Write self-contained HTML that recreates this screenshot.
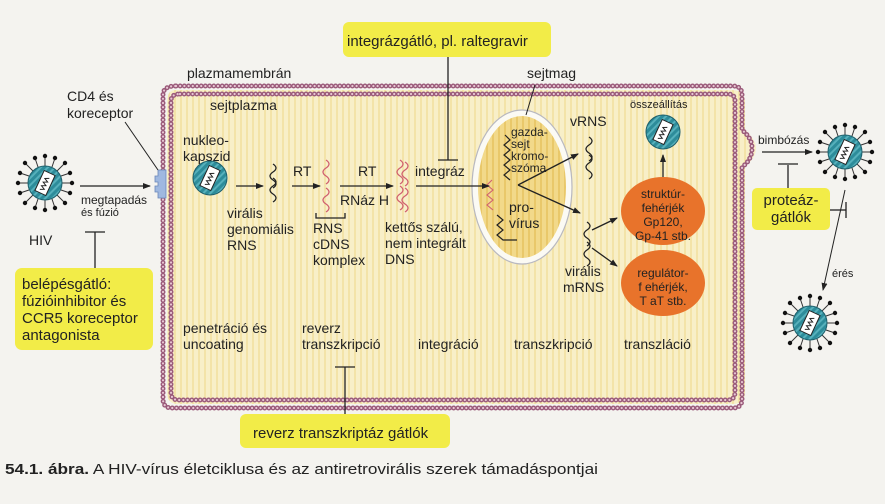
<!DOCTYPE html>
<html><head><meta charset="utf-8"><style>
html,body{margin:0;padding:0;background:#f4f3ef;}
svg{display:block;}
text{font-family:"Liberation Sans",sans-serif;fill:#222;}
</style></head><body>
<svg width="885" height="504" viewBox="0 0 885 504" xmlns="http://www.w3.org/2000/svg">
<defs>
<marker id="ar" markerWidth="8" markerHeight="8" refX="7" refY="4" orient="auto" markerUnits="userSpaceOnUse"><path d="M0,1 L8,4 L0,7 Z" fill="#222"/></marker>
<pattern id="str" width="6" height="10" patternUnits="userSpaceOnUse"><rect width="6" height="10" fill="#f8efc8"/><rect width="2" height="10" fill="#f3e3a8"/></pattern>
<pattern id="nstr" width="6" height="10" patternUnits="userSpaceOnUse"><rect width="6" height="10" fill="#f2d98a"/><rect width="2" height="10" fill="#e9c86a"/></pattern>
<pattern id="vstr" width="5" height="5" patternUnits="userSpaceOnUse" patternTransform="rotate(45)"><rect width="5" height="5" fill="#2d8c9a"/><rect width="2" height="5" fill="#56b0bb"/></pattern>
<g id="core"><circle r="17" fill="url(#vstr)" stroke="#1d5e6a" stroke-width="1"/><g transform="rotate(-65)"><rect x="-11" y="-6" width="22" height="12" fill="#fff" stroke="#222" stroke-width="1"/><path d="M-8,-2 l2,4 l2,-4 l2,4 l2,-4 l2,4 l2,-4 l2,4" fill="none" stroke="#222" stroke-width="1"/></g></g>
<g id="vir"><g stroke="#333" stroke-width="1">
<line x1="0" y1="-17" x2="0" y2="-27"/><line x1="0" y1="17" x2="0" y2="27"/><line x1="-17" y1="0" x2="-27" y2="0"/><line x1="17" y1="0" x2="27" y2="0"/>
<line x1="12" y1="12" x2="20" y2="20"/><line x1="-12" y1="12" x2="-20" y2="20"/><line x1="12" y1="-12" x2="20" y2="-20"/><line x1="-12" y1="-12" x2="-20" y2="-20"/>
<line x1="7" y1="-16" x2="10" y2="-25"/><line x1="-7" y1="16" x2="-10" y2="25"/><line x1="16" y1="7" x2="25" y2="10"/><line x1="-16" y1="-7" x2="-25" y2="-10"/>
<line x1="-7" y1="-16" x2="-10" y2="-25"/><line x1="7" y1="16" x2="10" y2="25"/><line x1="16" y1="-7" x2="25" y2="-10"/><line x1="-16" y1="7" x2="-25" y2="10"/></g>
<g fill="#111"><circle cx="0" cy="-27" r="2.2"/><circle cx="0" cy="27" r="2.2"/><circle cx="-27" cy="0" r="2.2"/><circle cx="27" cy="0" r="2.2"/><circle cx="20" cy="20" r="2.2"/><circle cx="-20" cy="20" r="2.2"/><circle cx="20" cy="-20" r="2.2"/><circle cx="-20" cy="-20" r="2.2"/><circle cx="10" cy="-25" r="2.2"/><circle cx="-10" cy="25" r="2.2"/><circle cx="25" cy="10" r="2.2"/><circle cx="-25" cy="-10" r="2.2"/><circle cx="-10" cy="-25" r="2.2"/><circle cx="10" cy="25" r="2.2"/><circle cx="25" cy="-10" r="2.2"/><circle cx="-25" cy="10" r="2.2"/></g>
<use href="#core"/></g>
<path id="sq" d="M0,0 q6,4 0,8 q-6,4 0,8 q6,4 0,8" fill="none" stroke-width="1.3"/>
</defs>

<!-- cell -->
<path d="M175,90 H732 Q745,90 745,103 V130 Q756,140 756,148 Q756,158 745,166 V392 Q745,404 732,404 H178 Q167,404 167,392 V103 Q167,90 175,90 Z" fill="url(#str)"/>
<g fill="none">
<path id="outer" d="M176,86 H733 Q742,86 742,95 V130 Q752,138 752,148 Q752,160 742,167 V399 Q742,408 733,408 H172 Q163,408 163,399 V95 Q163,86 176,86 Z"/>
<path id="inner" d="M180,94 H728 Q735,94 735,101 V392 Q735,400 728,400 H178 Q171,400 171,392 V101 Q171,94 180,94 Z"/>
</g>
<g fill="none" stroke-linecap="round">
<use href="#outer" stroke="#9a5a7a" stroke-width="5" stroke-dasharray="0 4.2"/>
<use href="#inner" stroke="#9a5a7a" stroke-width="5" stroke-dasharray="0 4.2"/>
<use href="#outer" stroke="#e8c8d4" stroke-width="2.2" stroke-dasharray="0 4.2"/>
<use href="#inner" stroke="#e8c8d4" stroke-width="2.2" stroke-dasharray="0 4.2"/>
</g>
<!-- receptor -->
<path d="M158,170 h8 v28 h-8 v-6 h-3 v-6 h3 v-4 h-3 v-6 h3 z" fill="#9fb8e0" stroke="#6a86b8" stroke-width="0.8"/>

<!-- nucleus -->
<ellipse cx="522" cy="187" rx="50" ry="77" fill="#fbfaf4" stroke="#b8b8c0" stroke-width="1.2"/>
<ellipse cx="522" cy="187" rx="44" ry="71" fill="url(#nstr)"/>
<path d="M505,135 l5,5 l-6,5 l6,5 l-6,5 l6,5 l-6,5 l6,5 l-6,5 l6,5" fill="none" stroke="#222" stroke-width="1.2"/>
<path d="M492,180 l-5,5 l6,5 l-6,5 l6,5 l-6,5 l6,5" fill="none" stroke="#d06070" stroke-width="1.1"/>
<path d="M497,215 l6,5 l-6,5 l6,5 l-6,5 l6,5 l14,0" fill="none" stroke="#222" stroke-width="1.2"/>

<!-- arrows -->
<g stroke="#222" stroke-width="1.3" fill="none">
<line x1="80" y1="186" x2="150" y2="186" marker-end="url(#ar)"/>
<line x1="125" y1="122" x2="158" y2="170" stroke-width="1"/>
<line x1="95" y1="232" x2="95" y2="270"/><line x1="85" y1="232" x2="105" y2="232"/>
<line x1="236" y1="186" x2="263" y2="186" marker-end="url(#ar)"/>
<line x1="292" y1="186" x2="320" y2="186" marker-end="url(#ar)"/>
<line x1="340" y1="186" x2="393" y2="186" marker-end="url(#ar)"/>
<line x1="416" y1="186" x2="489" y2="186" marker-end="url(#ar)"/>
<line x1="448" y1="57" x2="448" y2="160"/><line x1="438" y1="160" x2="458" y2="160"/>
<path d="M316,213 v5 h29 v-5"/>
<line x1="518" y1="185" x2="578" y2="154" marker-end="url(#ar)"/>
<line x1="518" y1="185" x2="580" y2="213" marker-end="url(#ar)"/>
<line x1="535" y1="85" x2="526" y2="115" stroke-width="1"/>
<line x1="592" y1="230" x2="617" y2="218" marker-end="url(#ar)"/>
<line x1="592" y1="248" x2="617" y2="266" marker-end="url(#ar)"/>
<line x1="663" y1="177" x2="663" y2="155" marker-end="url(#ar)"/>
<line x1="762" y1="152" x2="812" y2="152" marker-end="url(#ar)"/>
<line x1="788" y1="165" x2="788" y2="188"/><line x1="778" y1="164" x2="798" y2="164"/>
<line x1="830" y1="210" x2="846" y2="210"/><line x1="846" y1="202" x2="846" y2="218"/>
<line x1="845" y1="190" x2="823" y2="290" stroke-width="1" marker-end="url(#ar)"/>
<line x1="345" y1="367" x2="345" y2="414"/><line x1="335" y1="367" x2="355" y2="367"/>
</g>

<!-- squiggles -->
<use href="#sq" x="273" y="164" stroke="#222"/><use href="#sq" x="273" y="178" stroke="#222"/>
<use href="#sq" x="326" y="160" stroke="#d06070"/><use href="#sq" x="326" y="188" stroke="#d06070"/>
<use href="#sq" x="400" y="160" stroke="#d06070"/><use href="#sq" x="400" y="186" stroke="#d06070"/>
<use href="#sq" x="405" y="162" stroke="#d06070"/><use href="#sq" x="405" y="188" stroke="#d06070"/>
<use href="#sq" x="589" y="137" stroke="#222"/><use href="#sq" x="589" y="155" stroke="#222"/>
<use href="#sq" x="587" y="222" stroke="#222"/><use href="#sq" x="587" y="242" stroke="#222"/>

<!-- viruses -->
<use href="#vir" x="45" y="183"/>
<use href="#core" x="210" y="178"/>
<use href="#core" x="663" y="132"/>
<use href="#vir" x="845" y="152"/>
<use href="#vir" x="810" y="323"/>

<!-- orange proteins -->
<ellipse cx="663" cy="211" rx="42" ry="34" fill="#e8732b"/>
<ellipse cx="663" cy="283" rx="42" ry="33" fill="#e8732b"/>

<!-- yellow boxes -->
<rect x="15" y="268" width="138" height="82" rx="7" fill="#f2ec48"/>
<rect x="343" y="22" width="208" height="35" rx="6" fill="#f2ec48"/>
<rect x="752" y="188" width="78" height="42" rx="5" fill="#f2ec48"/>
<rect x="240" y="414" width="210" height="34" rx="6" fill="#f2ec48"/>

<!-- text -->
<g font-size="14">
<text x="347" y="46" font-size="15">integrázgátló, pl. raltegravir</text>
<text x="187" y="78">plazmamembrán</text>
<text x="527" y="78">sejtmag</text>
<text x="67" y="101">CD4 és</text><text x="67" y="118">koreceptor</text>
<text x="210" y="110">sejtplazma</text>
<text x="183" y="145">nukleo-</text><text x="183" y="161">kapszid</text>
<text x="81" y="204" font-size="12">megtapadás</text><text x="81" y="216" font-size="11">és fúzió</text>
<text x="29" y="245">HIV</text>
<text x="22" y="289" font-size="15">belépésgátló:</text>
<text x="22" y="306" font-size="15">fúzióinhibitor és</text>
<text x="22" y="323" font-size="15">CCR5 koreceptor</text>
<text x="22" y="340" font-size="15">antagonista</text>
<text x="227" y="218">virális</text><text x="227" y="234">genomiális</text><text x="227" y="250">RNS</text>
<text x="293" y="176">RT</text><text x="358" y="176">RT</text>
<text x="340" y="205">RNáz H</text>
<text x="313" y="233">RNS</text><text x="313" y="249">cDNS</text><text x="313" y="265">komplex</text>
<text x="415" y="176">integráz</text>
<text x="385" y="232">kettős szálú,</text><text x="385" y="248">nem integrált</text><text x="385" y="264">DNS</text>
<text x="511" y="136" font-size="12">gazda-</text><text x="511" y="148" font-size="12">sejt</text><text x="511" y="160" font-size="12">kromo-</text><text x="511" y="172" font-size="12">szóma</text>
<text x="509" y="212">pro-</text><text x="509" y="228">vírus</text>
<text x="570" y="126">vRNS</text>
<text x="565" y="276">virális</text><text x="563" y="292">mRNS</text>
<text x="630" y="108" font-size="11">összeállítás</text>
<text x="663" y="198" font-size="12" text-anchor="middle">struktúr-</text>
<text x="663" y="212" font-size="12" text-anchor="middle">fehérjék</text>
<text x="663" y="226" font-size="12" text-anchor="middle">Gp120,</text>
<text x="663" y="240" font-size="12" text-anchor="middle">Gp-41 stb.</text>
<text x="663" y="277" font-size="12" text-anchor="middle">regulátor-</text>
<text x="663" y="291" font-size="12" text-anchor="middle">f ehérjék,</text>
<text x="663" y="305" font-size="12" text-anchor="middle">T aT stb.</text>
<text x="758" y="144" font-size="12">bimbózás</text>
<text x="791" y="205" text-anchor="middle" font-size="15">proteáz-</text>
<text x="791" y="222" text-anchor="middle" font-size="15">gátlók</text>
<text x="832" y="277" font-size="11">érés</text>
<text x="183" y="333">penetráció és</text><text x="183" y="349">uncoating</text>
<text x="302" y="333">reverz</text><text x="302" y="349">transzkripció</text>
<text x="418" y="349">integráció</text>
<text x="514" y="349">transzkripció</text>
<text x="624" y="349">transzláció</text>
<text x="253" y="438" font-size="15">reverz transzkriptáz gátlók</text>
<text x="5" y="474" font-size="14.5" textLength="593" lengthAdjust="spacingAndGlyphs"><tspan font-weight="bold">54.1. ábra.</tspan> A HIV-vírus életciklusa és az antiretrovirális szerek támadáspontjai</text>
</g>
</svg>
</body></html>
